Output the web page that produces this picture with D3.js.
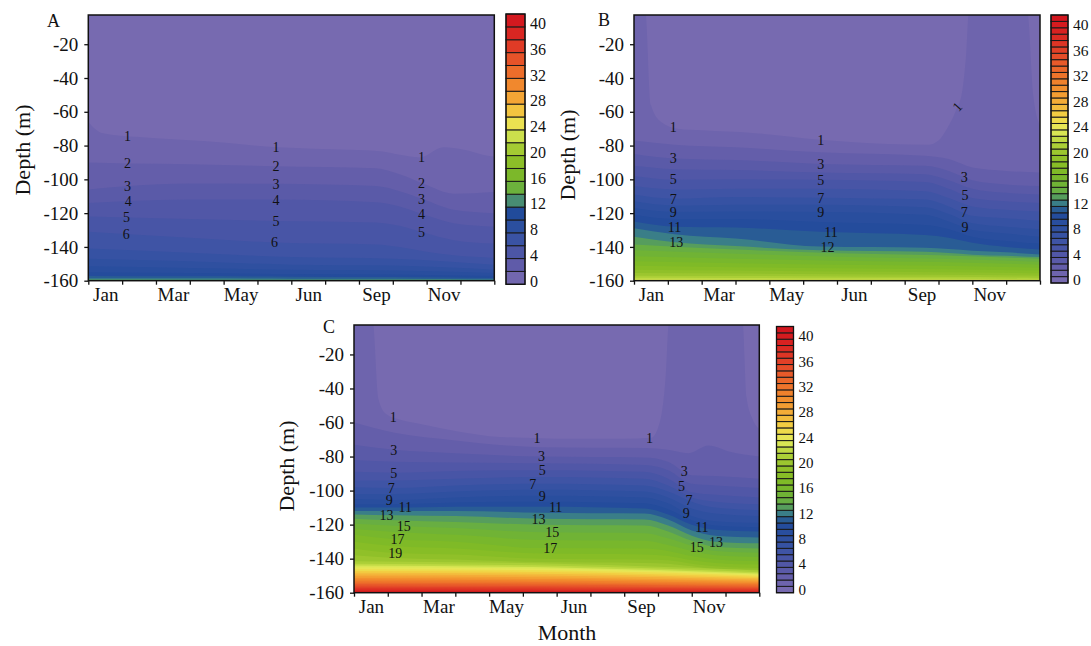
<!DOCTYPE html>
<html>
<head>
<meta charset="utf-8">
<script src="https://cdnjs.cloudflare.com/ajax/libs/d3/7.8.5/d3.min.js"></script>
<style>
  body { margin: 0; background: #ffffff; }
  svg text { font-family: "Liberation Serif", "Times New Roman", serif; fill: #111; }
</style>
</head>
<body>
<svg id="chart" width="1091" height="646"></svg>
<script>
// ---------- shared axis data ----------
const monthLabels = ["Jan", "Mar", "May", "Jun", "Sep", "Nov"];
const monthLabelPos = [0.5, 2.5, 4.5, 6.5, 8.5, 10.5];
const monthBounds = [0, 1, 2, 3, 4, 5, 6, 7, 8, 9, 10, 11, 12];
const depthTicks = [-20, -40, -60, -80, -100, -120, -140, -160];
const colorbarTicks = [0, 4, 8, 12, 16, 20, 24, 28, 32, 36, 40];

// colour ramp (value -> colour)
const colorStopValues = [0, 1.5, 3, 5, 7, 9, 11, 12.5, 14, 16, 18, 20, 22, 24, 26, 28, 30, 32, 34, 36, 38, 40, 42];
const colorStopHex = ["#7b6db2", "#6e64ad", "#5f5ba9", "#4c56a6", "#3a53a4", "#2b4f9f", "#214b9b", "#3a7e88",
  "#64ac48", "#74b52f", "#83bb24", "#94c22b", "#b3d33b", "#e4ec5c", "#f1d545", "#f4b33a", "#f3962f",
  "#ef7a2b", "#e9602a", "#e34628", "#dc2f24", "#d61d20", "#d0141d"];

// ---------- panel A : isolines (month, depth m) ----------
const levelsA = [1, 2, 3, 4, 5, 6, 7, 8, 9, 10, 11, 12, 13];
const lineA1 = [[0, -66], [0.4, -72.5], [1.5, -75], [3.5, -77.5], [5.6, -81], [7.7, -82.5], [8.7, -83.5],
  [9.2, -85.5], [9.8, -87], [10.5, -81], [11.1, -82.5], [11.8, -86], [12, -86.5]];
const nodesA = [0, 1.2, 3, 5.5, 8.5, 9.2, 9.9, 10.8, 12];
const depthsA = [
  [-90, -90.6, -91, -92.2, -93.5, -97, -102.5, -108.5, -107.5],
  [-106, -104, -102.5, -102.6, -104, -107, -111.8, -118, -120],
  [-114, -112.8, -112, -112, -113.5, -116, -120.7, -126, -128],
  [-122, -122.6, -123.5, -124.6, -125.5, -127.5, -131.5, -136, -138],
  [-131, -132.5, -134.5, -137.4, -138.5, -140, -142.5, -145, -146.5]
];
const nodesABottom = [0, 3, 6, 9, 12];
const depthsABottom = [
  [-141, -143.5, -146, -147, -150.5],
  [-147, -148.5, -150.5, -151, -153.5],
  [-151.5, -152.5, -153.5, -154, -155.5],
  [-155, -155.5, -156, -156.3, -157.2],
  [-157.2, -157.4, -157.6, -157.8, -158.4],
  [-158.5, -158.6, -158.8, -158.9, -159.2],
  [-159.3, -159.4, -159.5, -159.5, -159.7]
];
const labelsA = [[1, 1.16], [2, 1.16], [3, 1.16], [4, 1.18], [5, 1.13], [6, 1.12],
  [1, 5.55], [2, 5.55], [3, 5.55], [4, 5.55], [5, 5.55], [6, 5.5],
  [1, 9.85], [2, 9.85], [3, 9.85], [4, 9.85], [5, 9.85]];

// ---------- panel B ----------
const levelsB = [1, 2, 3, 4, 5, 6, 7, 8, 9, 10, 11, 12, 13, 14, 15, 16, 17, 18, 19, 20, 21, 22, 23];
const lineB1 = [[0, 0], [0.33, 0], [0.5, -56], [0.8, -66], [1.3, -70], [2, -71], [3.5, -72.5], [5.5, -76.5],
  [7.5, -79], [8.7, -79.5], [9.0, -77], [9.25, -70], [9.5, -60], [9.7, -48], [9.82, -25], [9.9, 0],
  [11.62, 0], [11.8, -50], [12, -68]];
const nodesB = [0, 1.2, 3, 5.5, 8.6, 9.3, 10, 11, 12];
const depthsB = [
  [-77, -79.5, -81, -84, -86, -88, -93, -95, -96],
  [-85, -87.6, -88.5, -90.9, -92, -95, -100.5, -103, -104],
  [-92, -94, -94.5, -96, -97, -100.5, -105.5, -108, -109],
  [-98, -100.2, -100, -100.2, -101.5, -105.5, -111, -113, -114],
  [-104, -106, -105.5, -105.5, -107, -111, -116, -118, -119],
  [-109, -111.5, -110.5, -110.9, -112, -116, -121.5, -123, -124.5],
  [-113, -115.5, -115, -115, -116.5, -120.5, -126, -128, -129.5],
  [-117, -119.3, -119, -119.3, -121, -125, -130, -132, -134],
  [-121, -123.5, -123.5, -125.3, -127, -129.5, -134, -136.5, -138],
  [-125, -128, -128.5, -131, -133, -134.5, -137.5, -140, -141.5],
  [-129, -132.5, -135, -139.8, -140.5, -141.2, -142.2, -143.2, -144.5],
  [-134, -137.2, -139.5, -142, -142.8, -143.6, -144.6, -145.3, -146]
];
const nodesBBottom = [0, 3, 6, 9, 12];
const depthsBBottom = [
  [-138.5, -141.5, -143.8, -145, -147],
  [-142, -144, -145.8, -147, -148.8],
  [-145.5, -147, -148.2, -149, -150.5],
  [-148.5, -149.7, -150.5, -151.2, -152.3],
  [-151.2, -152, -152.7, -153.2, -154],
  [-153.5, -154, -154.6, -155, -155.6],
  [-155.5, -155.8, -156.2, -156.5, -157],
  [-157, -157.2, -157.5, -157.7, -158.2],
  [-158.3, -158.4, -158.6, -158.7, -159],
  [-159.3, -159.4, -159.5, -159.5, -159.7]
];
const labelsB = [[1, 1.16], [3, 1.16], [5, 1.16], [7, 1.16], [9, 1.16], [11, 1.2], [13, 1.25],
  [1, 5.52], [3, 5.52], [5, 5.52], [7, 5.52], [9, 5.52], [11, 5.82], [12, 5.72],
  [1, 9.55, -48], [3, 9.76], [5, 9.78], [7, 9.76], [9, 9.78]];

// ---------- panel C ----------
const levelsC = d3.range(1, 41);
const lineC1 = [[0, 0], [0.55, 0], [0.72, -46], [0.95, -55], [1.3, -58], [2, -61], [3, -65], [4, -68],
  [5, -69], [6, -69.5], [8, -69.5], [8.8, -69], [9.05, -60], [9.22, -35], [9.33, 0],
  [11.5, 0], [11.62, -45], [11.8, -58], [12, -64]];
const lineC2 = [[0, -60], [1.2, -66], [3, -70.5], [5.5, -74.5], [8.6, -75], [9.3, -76], [9.9, -78],
  [10.5, -73.5], [11.1, -77], [12, -80]];
const nodesC = [0, 1.2, 3, 5.5, 8.6, 9.3, 10, 10.7, 12];
const depthsC = [
  [-73, -76, -78, -80, -80.5, -83, -91, -91.5, -93],
  [-82, -83, -83.5, -84, -85, -88, -96, -97, -98.5],
  [-89, -89.5, -88.5, -88, -89, -93, -101, -102.5, -104],
  [-94, -94, -93, -92, -93, -97, -104, -106.5, -108],
  [-98, -98.5, -97, -96, -97, -100.5, -106.5, -110, -111.5],
  [-102, -102, -100.5, -99.5, -100.5, -104, -110.5, -113.5, -115],
  [-105, -105.5, -104, -103, -104, -107.5, -115, -118, -119],
  [-108, -108, -107, -106.5, -107.5, -111, -117.5, -120.5, -121.5],
  [-110, -110, -109.5, -109.5, -110.5, -114, -120, -123, -124],
  [-112, -112, -112, -113, -113.5, -117, -123.5, -126.5, -127.5],
  [-114, -114.5, -115, -116.5, -117, -120.5, -126.5, -130, -131],
  [-116.5, -117.5, -118.5, -120, -120.5, -124, -129.5, -133, -134],
  [-119.5, -120.6, -122, -124.5, -125, -128, -132.5, -135.5, -136.5],
  [-122.5, -124.3, -126, -129, -129.5, -132, -135.5, -138, -139],
  [-126, -128.6, -130, -133.8, -134, -135.5, -138.5, -140.5, -141.5],
  [-130, -132.6, -134, -137, -137.5, -138.5, -141, -142.5, -143.5],
  [-134, -136.6, -137.5, -140, -140.5, -141, -143, -144.5, -145.5],
  [-138, -139.6, -140.5, -142, -142.5, -143, -144.5, -146, -146.5]
];
const nodesCBottom = [0, 6, 12];
const depthsCBottom = [
  [-141.5, -143, -147], [-143, -144.2, -148], [-144, -145.2, -148.7], [-145, -146, -149.3],
  [-146.2, -147, -150], [-147.3, -148, -150.8], [-148.3, -149, -151.5], [-149.3, -150, -152.2],
  [-150.3, -151, -153], [-151.3, -152, -153.7], [-152.3, -152.9, -154.4], [-153.2, -153.8, -155.1],
  [-154.1, -154.6, -155.8], [-154.9, -155.4, -156.5], [-155.7, -156.2, -157.1], [-156.5, -157, -157.7],
  [-157.3, -157.7, -158.3], [-158, -158.4, -158.9], [-158.7, -159, -159.4], [-159.3, -159.5, -159.8]
];
const labelsC = [[1, 1.16], [3, 1.18], [5, 1.18], [7, 1.1], [9, 1.04], [11, 1.52], [13, 0.96], [15, 1.47],
  [17, 1.29], [19, 1.22], [1, 5.42], [3, 5.55], [5, 5.57], [7, 5.29], [9, 5.57], [11, 5.97], [13, 5.46],
  [15, 5.87], [17, 5.81], [1, 8.75], [3, 9.78], [5, 9.7], [7, 9.92], [9, 9.84], [11, 10.3], [13, 10.72],
  [15, 10.15]];

// ---------- helpers ----------
const zipNodes = (nodes, depths) => depths.map(row => row.map((d, i) => [nodes[i], d]));
const color = d3.scaleLinear().domain(colorStopValues).range(colorStopHex)
  .interpolate(d3.interpolateRgb).clamp(true);

function depthAt(line, m) {
  for (let i = 0; i < line.length - 1; i++) {
    const a = line[i], b = line[i + 1];
    if (m >= a[0] && m <= b[0]) return a[1] + (b[1] - a[1]) * (m - a[0]) / (b[0] - a[0]);
  }
  return line[line.length - 1][1];
}

const svg = d3.select("#chart");
const FONT = '"Liberation Serif", "Times New Roman", serif';

function drawPanel(p) {
  const x = d3.scaleLinear().domain([0, 12]).range([p.left, p.right]);
  const y = d3.scaleLinear().domain([-160, -2.7]).range([p.bottom, p.top]);
  const g = svg.append("g");

  g.append("clipPath").attr("id", "clip" + p.id).append("rect")
    .attr("x", p.left).attr("y", p.top).attr("width", p.right - p.left).attr("height", p.bottom - p.top);

  // filled contour bands, painted shallow to deep
  const fills = g.append("g").attr("clip-path", `url(#clip${p.id})`);
  fills.append("rect").attr("x", p.left).attr("y", p.top)
    .attr("width", p.right - p.left).attr("height", p.bottom - p.top).attr("fill", color(0.5));
  const area = d3.area().x(d => x(d[0])).y0(y(-170)).y1(d => y(d[1])).curve(d3.curveMonotoneX);
  p.levels.forEach((lv, i) => {
    fills.append("path").datum(p.isolines[i]).attr("d", area).attr("fill", color(lv + 0.5));
  });

  // contour labels
  p.labels.forEach(([lv, m, rot]) => {
    const line = p.isolines[p.levels.indexOf(lv)];
    const px = x(m), py = y(depthAt(line, m));
    const t = g.append("text").attr("x", px).attr("y", py).attr("dy", "0.35em")
      .attr("text-anchor", "middle").attr("font-size", p.labFont).text(lv);
    if (rot) t.attr("transform", `rotate(${rot},${px},${py})`);
  });

  // frame
  g.append("rect").attr("x", p.left).attr("y", p.top)
    .attr("width", p.right - p.left).attr("height", p.bottom - p.top)
    .attr("fill", "none").attr("stroke", "#111").attr("stroke-width", 1.5);

  // axes
  const ya = g.append("g").attr("transform", `translate(${p.left},0)`)
    .call(d3.axisLeft(y).tickValues(depthTicks).tickSize(4).tickPadding(6).tickFormat(d => String(d)));
  const xt = g.append("g").attr("transform", `translate(0,${p.bottom})`)
    .call(d3.axisBottom(x).tickValues(monthBounds).tickSize(4).tickFormat(() => ""));
  const xl = g.append("g").attr("transform", `translate(0,${p.bottom})`)
    .call(d3.axisBottom(x).tickValues(monthLabelPos).tickSize(0).tickPadding(7)
      .tickFormat((d, i) => monthLabels[i]));
  [ya, xt, xl].forEach(a => {
    a.select(".domain").remove();
    a.attr("font-family", FONT).attr("font-size", 19);
    a.selectAll("line").attr("stroke", "#111").attr("stroke-width", 1.3);
    a.selectAll("text").attr("fill", "#111");
  });

  // panel letter and axis titles
  g.append("text").attr("x", p.letterX).attr("y", p.letterY).attr("font-size", 18).text(p.id);
  g.append("text").attr("transform", `translate(${p.ylabX},${p.ylabY}) rotate(-90)`)
    .attr("text-anchor", "middle").attr("dy", "0.35em").attr("font-size", 22).text("Depth (m)");
  if (p.xTitle) {
    g.append("text").attr("x", p.xTitleX).attr("y", p.xTitleY).attr("text-anchor", "middle")
      .attr("dy", "0.35em").attr("font-size", 22).text(p.xTitle);
  }

  // colour bar
  const cb = d3.scaleLinear().domain([0, 42]).range([p.cbBottom, p.cbTop]);
  const steps = d3.range(0, 42, p.cbStep);
  g.append("g").selectAll("rect").data(steps).join("rect")
    .attr("x", p.cbLeft).attr("width", p.cbWidth)
    .attr("y", d => cb(d + p.cbStep)).attr("height", d => cb(d) - cb(d + p.cbStep))
    .attr("fill", d => color(d + p.cbStep / 2))
    .attr("stroke", "#1a1a1a").attr("stroke-width", 1);
  g.append("rect").attr("x", p.cbLeft).attr("y", p.cbTop).attr("width", p.cbWidth)
    .attr("height", p.cbBottom - p.cbTop).attr("fill", "none").attr("stroke", "#111").attr("stroke-width", 1.3);
  g.append("g").selectAll("text").data(colorbarTicks).join("text")
    .attr("x", p.cbLeft + p.cbWidth + 5).attr("y", d => cb(d + 0.5)).attr("dy", "0.35em")
    .attr("font-size", p.cbFont).text(d => d);
}

drawPanel({
  id: "A", left: 88.3, right: 494.3, top: 15, bottom: 280.7,
  levels: levelsA,
  isolines: [lineA1, ...zipNodes(nodesA, depthsA), ...zipNodes(nodesABottom, depthsABottom)],
  labels: labelsA, labFont: 14,
  letterX: 47, letterY: 27, ylabX: 22, ylabY: 150,
  cbLeft: 506, cbWidth: 19, cbTop: 14, cbBottom: 284.3, cbStep: 2, cbFont: 16
});
drawPanel({
  id: "B", left: 634, right: 1040, top: 15, bottom: 280.7,
  levels: levelsB,
  isolines: [lineB1, ...zipNodes(nodesB, depthsB), ...zipNodes(nodesBBottom, depthsBBottom)],
  labels: labelsB, labFont: 14,
  letterX: 598, letterY: 26, ylabX: 567, ylabY: 155,
  cbLeft: 1051, cbWidth: 17, cbTop: 15, cbBottom: 283, cbStep: 1, cbFont: 15.5
});
drawPanel({
  id: "C", left: 354, right: 759.3, top: 325, bottom: 592.7,
  levels: levelsC,
  isolines: [lineC1, lineC2, ...zipNodes(nodesC, depthsC), ...zipNodes(nodesCBottom, depthsCBottom)],
  labels: labelsC, labFont: 14,
  letterX: 323, letterY: 333, ylabX: 286, ylabY: 466,
  xTitle: "Month", xTitleX: 567, xTitleY: 632,
  cbLeft: 776.5, cbWidth: 17, cbTop: 326.5, cbBottom: 592.7, cbStep: 1, cbFont: 15
});
</script>
</body>
</html>
